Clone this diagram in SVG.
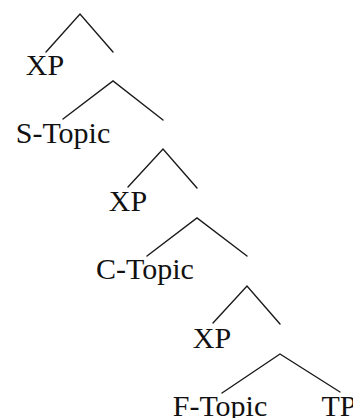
<svg xmlns="http://www.w3.org/2000/svg" width="353" height="418" viewBox="0 0 353 418">
  <style>
    .lbl { font-family: "Liberation Serif", "Times New Roman", serif; font-size: 30px; fill: #111; text-anchor: middle; }
    .br { fill: none; stroke: #1a1a1a; stroke-width: 1.4; stroke-linecap: round; stroke-linejoin: miter; }
  </style>
  <rect width="353" height="418" fill="#ffffff"/>
  <!-- branches of the tree -->
  <g id="connectors">
    <polyline class="br" points="46,52 80,14 113,52"/>
    <polyline class="br" points="63,119 113,81 163,120"/>
    <polyline class="br" points="128,187 163,149 197,188"/>
    <polyline class="br" points="147,256 197,218 247,256"/>
    <polyline class="br" points="213,323 247,286 280,324"/>
    <polyline class="br" points="222,393 280,354 340,392"/>
  </g>
  <g id="xp1"><text class="lbl" x="45" y="75">XP</text></g>
  <g id="s-topic"><text class="lbl" x="63" y="143">S-Topic</text></g>
  <g id="xp2"><text class="lbl" x="128" y="211">XP</text></g>
  <g id="c-topic"><text class="lbl" x="145" y="279">C-Topic</text></g>
  <g id="xp3"><text class="lbl" x="212" y="348">XP</text></g>
  <g id="f-topic"><text class="lbl" x="220" y="416">F-Topic</text></g>
  <g id="tp"><text class="lbl" x="339" y="416">TP</text></g>
</svg>
